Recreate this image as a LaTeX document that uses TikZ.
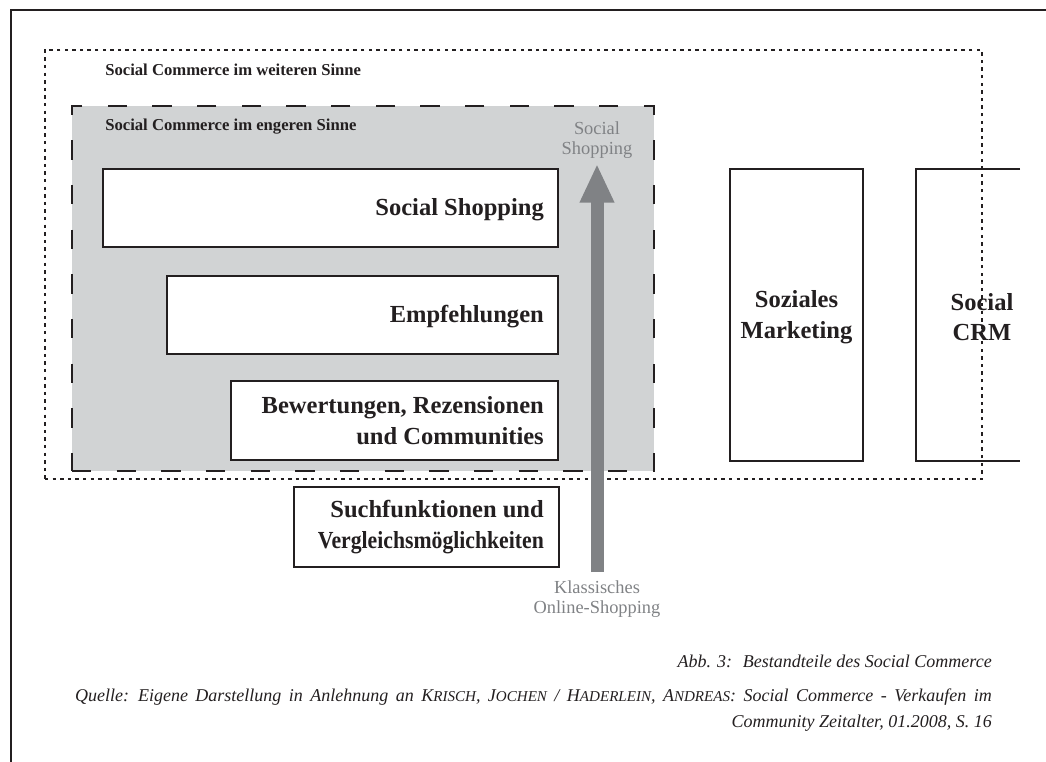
\documentclass[tikz,border=0pt]{standalone}
\usepackage{fontspec}
\setmainfont{Liberation Serif}
\newfontfamily\narrowserif{Liberation Serif}[FakeStretch=0.885]
\usetikzlibrary{arrows.meta,fit}

\definecolor{ink}{HTML}{231F20}
\definecolor{panel}{HTML}{D1D3D4}
\definecolor{shade}{HTML}{808285}

% reduced capitals for the author names
\newcommand\lowcaps[1]{{\fontsize{11.3}{12}\selectfont #1}}

\tikzset{
  frameline/.style={draw=ink, line width=1.6pt},
  widezone/.style={draw=ink, line width=1.1pt, dash pattern=on 2.6pt off 3.1pt, inner sep=0pt},
  narrowzone/.style={draw=ink, fill=panel, line width=1.5pt, dash pattern=on 14.5pt off 19pt, inner sep=0pt},
  itembox/.style={draw=ink, line width=1.6pt, fill=white, inner sep=0pt},
  itemline/.style={draw=ink, line width=1.6pt},
  itemtext/.style={font=\fontsize{18.4}{23}\selectfont\bfseries, text=ink, inner sep=0pt},
  zonetitle/.style={font=\fontsize{12.5}{14}\selectfont\bfseries, text=ink, inner sep=0pt, anchor=base west},
  axistext/.style={font=\fontsize{13.8}{15}\selectfont, text=shade, align=center, inner sep=0pt},
  caption/.style={font=\fontsize{13.5}{16}\selectfont\itshape, text=ink, inner sep=0pt, anchor=base east},
  trendarrow/.style={draw=shade, line width=9.75pt, -{Triangle[width=24pt,length=29pt]}}
}

\begin{document}
\begin{tikzpicture}[x=0.75pt,y=-0.75pt]
  \useasboundingbox (0,0) rectangle (1046,762);
  \clip (0,0) rectangle (1046,762);

  % page frame
  \draw[frameline] (11,800) -- (11,10) -- (1100,10);

  % social commerce in the narrow sense
  \node[narrowzone, fit={(72,106)(654,471)}] (narrow) {};
  \node[zonetitle] (narrowT) at (105,131) {Social Commerce im engeren Sinne};

  % stacked building blocks
  \node[itembox, fit={(103,169)(558,247)}] (shop) {};
  \node[itemtext, anchor=east] (shopT) at ([xshift=-11.25pt,yshift=-1pt]shop.east) {Social Shopping};

  \node[itembox, fit={(167,276)(558,354)}] (recom) {};
  \node[itemtext, anchor=east] (recomT) at ([xshift=-11.25pt,yshift=-1pt]recom.east) {Empfehlungen};

  \node[itembox, fit={(231,381)(558,460)}] (rating) {};
  \node[itemtext, anchor=east, align=right] (ratingT) at ([xshift=-11.25pt]rating.east) {Bewertungen, Rezensionen\\und Communities};

  \node[itembox, fit={(294,487)(559,567)}] (search) {};
  \node[itemtext, anchor=east, align=right] (searchT) at ([xshift=-12pt]search.east) {Suchfunktionen und\\{\narrowserif\bfseries Vergleichsmöglichkeiten}};

  % further areas
  \node[itembox, fit={(730,169)(863,461)}] (mkt) {};
  \node[itemtext, align=center] (mktT) at ([yshift=-1.5pt]mkt.center) {Soziales\\Marketing};

  \draw[itemline] (1020,169) -- (916,169) -- (916,461) -- (1020,461);
  \node[itemtext, align=center] (crmT) at (982,317) {Social\\CRM};

  % social commerce in the wider sense
  \node[widezone, fit={(45,50)(982,479)}] (wide) {};
  \node[zonetitle] (wideT) at (105,76) {Social Commerce im weiteren Sinne};

  % development axis
  \node[axistext, anchor=south] (top) at (597,159) {Social\\Shopping};
  \node[axistext, anchor=north] (bottom) at (597,580) {Klassisches\\Online-Shopping};
  \coordinate (foot) at (597,572);
  \coordinate (tip) at (597,164);
  \draw[trendarrow] (foot) -- (tip);

  % caption
  \node[caption] (abb) at (992,667) {Abb. 3:\hspace{0.6em}Bestandteile des Social Commerce};
  \node[caption] (src1) at (992,701) {\spaceskip=5.6pt Quelle: Eigene Darstellung in Anlehnung an K\lowcaps{RISCH}, J\lowcaps{OCHEN} / H\lowcaps{ADERLEIN}, A\lowcaps{NDREAS}: Social Commerce - Verkaufen im};
  \node[caption] (src2) at (992,727) {Community Zeitalter, 01.2008, S. 16};
\end{tikzpicture}
\end{document}
